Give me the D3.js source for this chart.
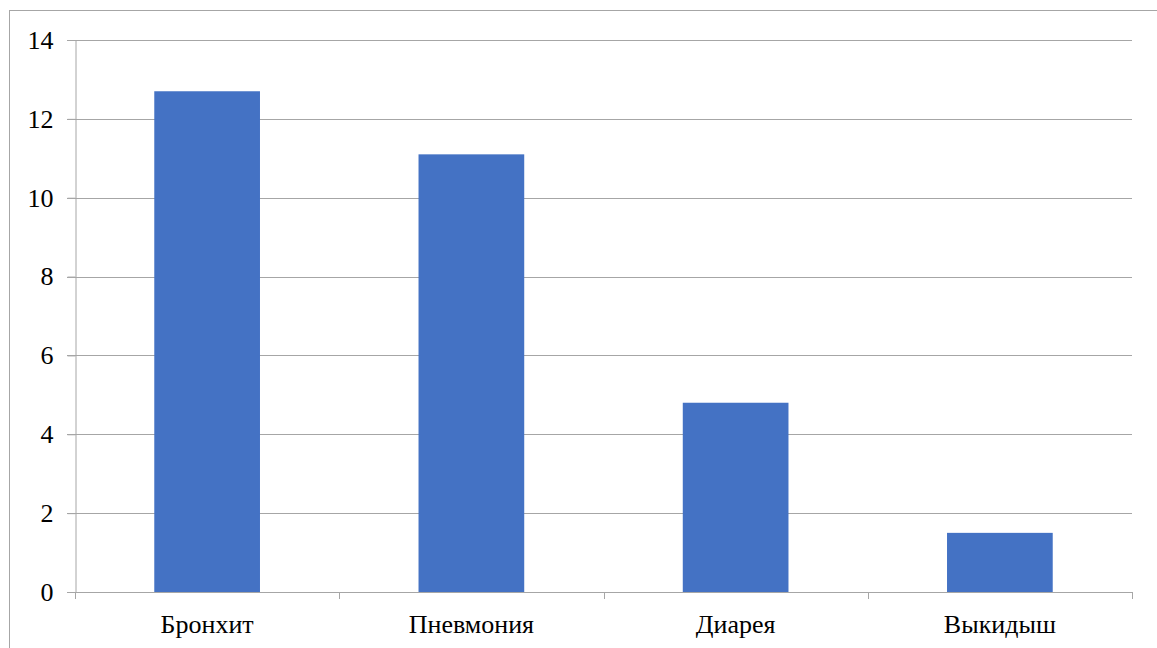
<!DOCTYPE html>
<html><head><meta charset="utf-8">
<script src="https://cdn.jsdelivr.net/npm/d3@7"></script>
<style>body{margin:0;background:#fff;}svg{display:block;}
svg text{font-family:"Liberation Serif","Times New Roman",serif !important;}</style>
</head><body>
<script>
const categories = ["Бронхит", "Пневмония", "Диарея", "Выкидыш"];
const values = [12.7, 11.1, 4.8, 1.5];
const yTicks = [0, 2, 4, 6, 8, 10, 12, 14];

const W = 1157, H = 648;
const pLeft = 75, pRight = 1132, pTop = 40, pBottom = 592;
const svg = d3.select("body").append("svg").attr("width", W).attr("height", H);

svg.append("rect").attr("x", 9.5).attr("y", 10.5).attr("width", 1160).attr("height", 660)
  .attr("fill", "#fff").attr("stroke", "#a6a6a6").attr("stroke-width", 1);

const x = d3.scaleBand().domain(categories).range([pLeft, pRight]).paddingInner(0.6).paddingOuter(0.3);
const xb = d3.scaleBand().domain(categories).range([pLeft, pRight]);
const y = d3.scaleLinear().domain([0, 14]).range([pBottom, pTop]);

// gridlines
svg.append("g").selectAll("line").data(yTicks.filter(d => d > 0)).join("line")
  .attr("x1", pLeft - 8).attr("x2", pRight)
  .attr("y1", d => Math.round(y(d)) + 0.5).attr("y2", d => Math.round(y(d)) + 0.5)
  .attr("stroke", "#a6a6a6").attr("stroke-width", 1);

// bars
svg.append("g").selectAll("rect").data(values).join("rect")
  .attr("x", (d, i) => x(categories[i]))
  .attr("width", x.bandwidth())
  .attr("y", d => y(d))
  .attr("height", d => pBottom - y(d))
  .attr("fill", "#4472C4");

// y axis
const yAxis = d3.axisLeft(y).tickValues(yTicks).tickSize(8).tickPadding(14).tickFormat(d3.format("d"));
const gy = svg.append("g").attr("transform", `translate(${pLeft + 0.5},0)`).call(yAxis);
gy.attr("font-family", null);
gy.select(".domain").attr("stroke", "#a6a6a6");
gy.selectAll(".tick line").attr("stroke", "#a6a6a6");
gy.selectAll(".tick text").attr("font-size", 26).attr("fill", "#000");

// x axis
svg.append("line").attr("x1", pLeft - 8).attr("x2", pRight).attr("y1", pBottom + 0.5).attr("y2", pBottom + 0.5)
  .attr("stroke", "#a6a6a6");
const bounds = categories.map(c => xb(c)).concat([pRight]);
svg.append("g").selectAll("line").data(bounds).join("line")
  .attr("x1", d => Math.round(d) + 0.5).attr("x2", d => Math.round(d) + 0.5)
  .attr("y1", pBottom).attr("y2", pBottom + 7).attr("stroke", "#a6a6a6");
svg.append("g").selectAll("text").data(categories).join("text")
  .attr("x", d => xb(d) + xb.bandwidth() / 2).attr("y", 633)
  .attr("text-anchor", "middle").attr("font-size", 26).attr("fill", "#000")
  .text(d => d);
</script>
</body></html>
